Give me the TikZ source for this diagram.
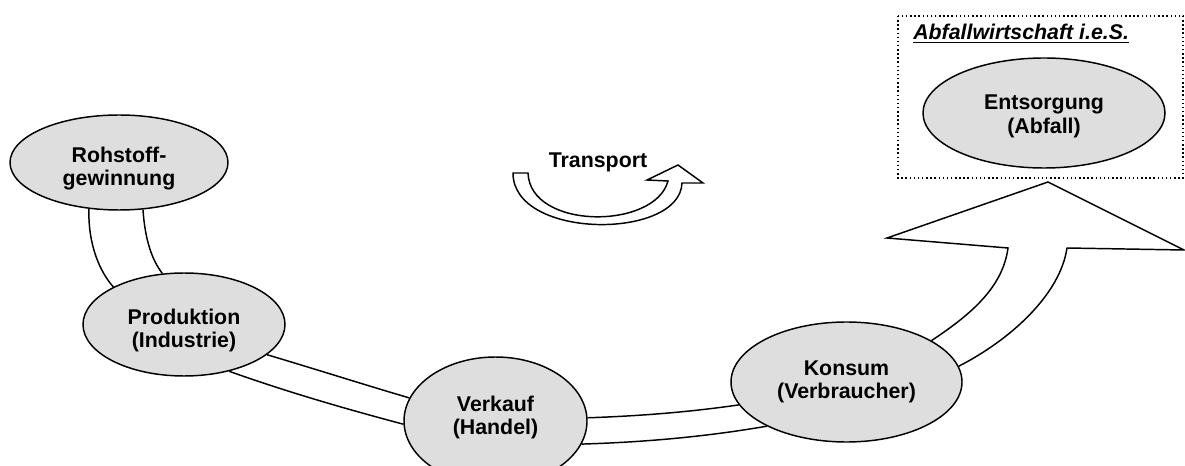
\documentclass[tikz,border=0pt]{standalone}
\usepackage{fontspec}
\setmainfont{Liberation Sans}
\usetikzlibrary{shapes.geometric}
\begin{document}
\begin{tikzpicture}[x=0.75pt,y=-0.75pt,
  stage/.style={ellipse,draw,line width=1.1pt,fill=black!13,inner sep=0pt},
  stagetext/.style={font=\fontsize{16}{17.4}\selectfont\bfseries,align=center,inner sep=0pt},
  band/.style={line width=1.1pt},
  lbl/.style={font=\fontsize{16}{17.4}\selectfont\bfseries,inner sep=0pt}]
\useasboundingbox (0,0) rectangle (1185,466);

% region of waste management in the narrow sense
\draw[line width=1.1pt,dotted] (898,16) rectangle (1183,178);
\node[lbl,anchor=base west] (title) at (913,40) {\itshape\underline{Abfallwirtschaft i.e.S.}};

% stages
\node[stage,minimum width=163.5pt,minimum height=71.25pt,
  label={[stagetext,yshift=-4.5pt]center:{Rohstoff-\\gewinnung}}] (roh) at (119,162.5) {};
\node[stage,minimum width=151.5pt,minimum height=77.25pt,
  label={[stagetext,yshift=-4.5pt]center:{Produktion\\(Industrie)}}] (prod) at (184,324.5) {};
\node[stage,minimum width=137.25pt,minimum height=96pt,
  label={[stagetext,yshift=2.5pt]center:{Verkauf\\(Handel)}}] (verk) at (495.5,421) {};
\node[stage,minimum width=173.25pt,minimum height=90pt,
  label={[stagetext,yshift=0pt]center:{Konsum\\(Verbraucher)}}] (kons) at (846.5,382) {};
\node[stage,minimum width=181.5pt,minimum height=82.5pt,
  label={[stagetext,yshift=-2.5pt]center:{Entsorgung\\(Abfall)}}] (ents) at (1044,113) {};

% transport bands between the stages
\draw[band] (roh.237) .. controls (88,245) and (100,272) .. (prod.152);
\draw[band] (roh.297) .. controls (145,240) and (152,260) .. (prod.113);
\draw[band] (prod.340) .. controls (315,369) and (362,384) .. (verk.165);
\draw[band] (prod.314) .. controls (290,393) and (350,410) .. (verk.182);
\draw[band] (verk.2) .. controls (640,416) and (690,412) .. (kons.192);
\draw[band] (verk.345) .. controls (650,442) and (710,436) .. (kons.209);

% wide arrow towards disposal
\coordinate (hl) at (1008,248);
\coordinate (hr) at (1067,248);
\coordinate (hbl) at (887,238);
\coordinate (htip) at (1048,182);
\coordinate (hbr) at (1184,250);
\draw[band,line join=miter] (kons.26) .. controls (975,312) and (1003,285) .. (hl)
  -- (hbl) -- (htip) -- (hbr) -- (hr)
  .. controls (1060,295) and (1010,340) .. (kons.8);

% transport symbol
\node[lbl] (trans) at (598,162) {Transport};
\coordinate (ta) at (513,173);
\coordinate (tb) at (528,173);
\coordinate (ti) at (668,181);
\coordinate (to) at (682,183);
\draw[band,line join=miter] (ta) -- (tb) .. controls (530,230) and (655,230) .. (ti)
  -- (647,180) -- (678,165) -- (703,183) -- (to)
  .. controls (680,240) and (513,240) .. (ta) -- cycle;
\end{tikzpicture}
\end{document}
